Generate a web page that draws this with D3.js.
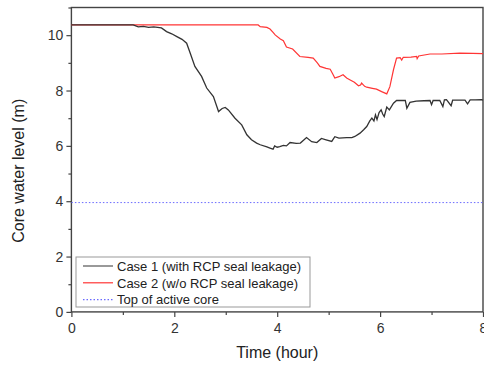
<!DOCTYPE html>
<html><head><meta charset="utf-8">
<script src="https://cdn.jsdelivr.net/npm/d3@7"></script>
<style>body{margin:0;background:#fff}svg{display:block}</style>
</head><body>
<script>
const case1Time = [0,1.2,1.3,1.4,1.5,1.6,1.75,1.85,1.95,2.05,2.15,2.24,2.31,2.4,2.53,2.63,2.76,2.86,2.93,2.99,3.05,3.18,3.31,3.41,3.5,3.6,3.67,3.8,3.86,3.92,3.95,4.0,4.05,4.12,4.18,4.25,4.37,4.45,4.57,4.67,4.77,4.86,4.95,5.06,5.12,5.2,5.35,5.45,5.51,5.61,5.68,5.74,5.8,5.84,5.88,5.91,5.94,5.98,6.02,6.05,6.08,6.13,6.18,6.26,6.32,6.4,6.49,6.52,6.58,6.7,6.85,6.97,7.0,7.03,7.16,7.22,7.25,7.29,7.38,7.41,7.5,7.65,7.7,7.75,7.85,7.97,8.0];
const case1Level = [10.37,10.37,10.3,10.32,10.28,10.3,10.26,10.13,10.05,9.95,9.85,9.71,9.35,8.87,8.51,8.09,7.78,7.24,7.35,7.39,7.3,7.0,6.76,6.4,6.22,6.1,6.04,5.96,5.92,5.88,6.0,5.95,5.97,6.02,6.0,6.12,6.09,6.1,6.3,6.15,6.12,6.27,6.22,6.16,6.33,6.28,6.3,6.3,6.34,6.46,6.58,6.7,6.9,7.0,6.9,7.12,6.95,7.2,7.3,7.15,7.06,7.4,7.3,7.54,7.64,7.64,7.64,7.36,7.57,7.62,7.63,7.64,7.49,7.64,7.64,7.42,7.66,7.67,7.45,7.65,7.65,7.65,7.52,7.66,7.66,7.67,7.65];
const case2Time = [0,3.63,3.67,3.8,3.86,3.92,3.96,4.06,4.12,4.18,4.3,4.44,4.6,4.7,4.78,4.83,4.95,5.03,5.08,5.12,5.2,5.28,5.35,5.41,5.5,5.58,5.62,5.64,5.7,5.74,5.85,5.93,6.03,6.13,6.19,6.26,6.32,6.39,6.42,6.45,6.6,6.71,6.72,6.75,6.97,7.2,7.55,7.8,8.0];
const case2Level = [10.37,10.37,10.31,10.28,10.22,10.1,10.01,9.86,9.8,9.57,9.5,9.23,9.2,9.17,9.0,8.87,8.8,8.77,8.6,8.45,8.5,8.57,8.45,8.39,8.3,8.17,8.2,8.27,8.15,8.12,8.08,8.05,7.96,7.88,8.14,8.75,9.17,9.19,9.1,9.2,9.21,9.23,9.15,9.25,9.32,9.32,9.35,9.34,9.33];
const coreTopLevel = 3.95;
const xTicks = [0,2,4,6,8];
const yTicks = [0,2,4,6,8,10];
const legendLabels = ["Case 1 (with RCP seal leakage)","Case 2 (w/o RCP seal leakage)","Top of active core"];

const W = 484, H = 365;
const L = 71.4, R = 483, T = 7.5, B = 311.9;
const svg = d3.select("body").append("svg").attr("width", W).attr("height", H)
  .style("font-family", "'Liberation Sans', Arial, sans-serif");

const x = d3.scaleLinear().domain([0, 8]).range([L, R]);
const y = d3.scaleLinear().domain([0, 11]).range([B, T]);

// frame
svg.append("rect").attr("x", L).attr("y", T).attr("width", R - L).attr("height", B - T)
  .attr("fill", "none").attr("stroke", "#444").attr("stroke-width", 1.4);

// core line
svg.append("line").attr("x1", x(0)).attr("x2", x(8)).attr("y1", y(coreTopLevel)).attr("y2", y(coreTopLevel))
  .attr("stroke", "#6a6aff").attr("stroke-width", 1).attr("stroke-dasharray", "1.5,2");

const line = d3.line().x(d => x(d[0])).y(d => y(d[1]));
const d1 = case1Time.map((t, i) => [t, case1Level[i]]);
const d2 = case2Time.map((t, i) => [t, case2Level[i]]);
svg.append("path").datum(d2).attr("d", line).attr("fill", "none").attr("stroke", "#ff3535").attr("stroke-width", 1.2);
svg.append("path").datum(d1).attr("d", line).attr("fill", "none").attr("stroke", "#333").attr("stroke-width", 1.3);

// axes
const xAxis = d3.axisBottom(x).tickValues(xTicks).tickSize(5).tickFormat(d3.format("d"));
const xMinor = d3.axisBottom(x).tickValues([1,3,5,7]).tickSize(3).tickFormat("");
const yAxis = d3.axisLeft(y).tickValues(yTicks).tickSize(5).tickFormat(d3.format("d"));
const yMinor = d3.axisLeft(y).tickValues([1,3,5,7,9,11]).tickSize(3).tickFormat("");

function style(g) {
  g.select(".domain").remove();
  g.selectAll(".tick line").attr("stroke", "#444").attr("stroke-width", 1.2);
  g.selectAll(".tick text").attr("fill", "#333").style("font-size", "14px");
}
svg.append("g").attr("transform", `translate(0,${B})`).call(xAxis).call(style).selectAll(".tick text").attr("y", 11);
svg.append("g").attr("transform", `translate(0,${B})`).call(xMinor).call(style);
svg.append("g").attr("transform", `translate(${L},0)`).call(yAxis).call(style);
svg.append("g").attr("transform", `translate(${L},0)`).call(yMinor).call(style);

// axis titles
svg.append("text").attr("x", x(4)).attr("y", 358).attr("text-anchor", "middle")
  .attr("fill", "#222").style("font-size", "16px").text("Time (hour)");
svg.append("text").attr("transform", `translate(24,${y(5.1)}) rotate(-90)`).attr("text-anchor", "middle")
  .attr("fill", "#222").style("font-size", "16px").text("Core water level (m)");

// legend
const lg = svg.append("g");
lg.append("rect").attr("x", 76).attr("y", 257).attr("width", 234).attr("height", 50)
  .attr("fill", "#fff").attr("stroke", "#999").attr("stroke-width", 1);
const legStyles = [
  {stroke: "#555", dash: null},
  {stroke: "#ff3535", dash: null},
  {stroke: "#6a6aff", dash: "1.5,2"}
];
legendLabels.forEach((lab, i) => {
  const yy = 266 + i * 16.8;
  lg.append("line").attr("x1", 83).attr("x2", 113).attr("y1", yy).attr("y2", yy)
    .attr("stroke", legStyles[i].stroke).attr("stroke-width", 1.2)
    .attr("stroke-dasharray", legStyles[i].dash);
  lg.append("text").attr("x", 117).attr("y", yy + 4.7).attr("fill", "#222")
    .style("font-size", "13px").text(lab);
});
</script>
</body></html>
